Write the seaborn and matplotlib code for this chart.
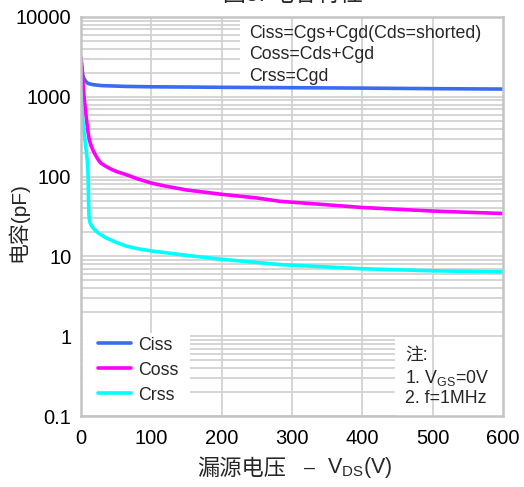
import matplotlib
matplotlib.use("Agg")
import matplotlib.pyplot as plt
from matplotlib.patches import Rectangle
from matplotlib.ticker import FixedLocator, FixedFormatter, LogLocator, NullFormatter
import seaborn as sns
import pandas as pd

# Capacitance vs drain-source voltage
vds_ciss = [0, 1, 2.4, 4, 7, 10, 17, 30, 64, 100, 200, 300, 400, 500, 600]
ciss = [3050, 2450, 1900, 1700, 1550, 1470, 1420, 1380, 1350, 1335, 1315, 1300, 1285, 1265, 1250]

vds_coss = [0, 2, 4.7, 7, 9.5, 11.8, 14, 16.6, 20, 24, 28, 35, 42, 50, 64, 80, 100, 120, 150,
            200, 250, 283, 340, 400, 500, 600]
coss = [3050, 1830, 917, 603, 387, 290, 250, 218, 190, 165, 148, 135, 125, 116, 106, 94, 83, 76, 68,
        60, 54, 49, 45, 41, 37, 34.5]

vds_crss = [0, 1, 2.5, 4, 6, 8, 9.2, 9.8, 10.3, 10.6, 11.3, 12.5, 15, 19, 25, 35.5, 50, 64,
            80, 100, 150, 200, 283, 400, 500, 600]
crss = [1165, 760, 500, 380, 270, 190, 150, 120, 90, 55, 33, 27, 24, 21.8, 19.5, 17.1, 15, 13.5,
        12.5, 11.7, 10.3, 9.2, 7.9, 7.0, 6.6, 6.4]

series_names = ["Ciss", "Coss", "Crss"]
series_colors = ["#3a6cf2", "#ff00ff", "#00ffff"]

x_ticks = [0, 100, 200, 300, 400, 500, 600]
x_labels = ["0", "100", "200", "300", "400", "500", "600"]
y_ticks = [0.1, 1, 10, 100, 1000, 10000]
y_labels = ["0.1", "1", "10", "100", "1000", "10000"]

frames = []
for name, xs, ys in zip(series_names, [vds_ciss, vds_coss, vds_crss], [ciss, coss, crss]):
    frames.append(pd.DataFrame({"VDS": xs, "C": ys, "series": name}))
df = pd.concat(frames, ignore_index=True)

sns.set_style("white")
plt.rcParams["font.family"] = ["Liberation Sans", "Noto Sans CJK SC"]
plt.rcParams["mathtext.fontset"] = "custom"
plt.rcParams["mathtext.rm"] = "Liberation Sans"
plt.rcParams["mathtext.it"] = "Liberation Sans"
plt.rcParams["mathtext.bf"] = "Liberation Sans"

W, H = 524, 487
fig = plt.figure(figsize=(W / 100, H / 100), dpi=100)
ax = fig.add_axes([81 / W, 71 / H, 422 / W, 399 / H])

sns.lineplot(data=df, x="VDS", y="C", hue="series", hue_order=series_names,
             palette=series_colors, linewidth=2.6, ax=ax, legend=False, zorder=2,
             sort=False, estimator=None)

ax.set_yscale("log")
ax.set_xlim(0, 600)
ax.set_ylim(0.1, 10000)

ax.xaxis.set_major_locator(FixedLocator(x_ticks))
ax.xaxis.set_major_formatter(FixedFormatter(x_labels))
ax.yaxis.set_major_locator(FixedLocator(y_ticks))
ax.yaxis.set_major_formatter(FixedFormatter(y_labels))
ax.yaxis.set_minor_locator(LogLocator(base=10, subs=range(2, 10), numticks=20))
ax.yaxis.set_minor_formatter(NullFormatter())
ax.tick_params(axis="both", which="both", length=0, labelsize=14.5, colors="black")
ax.tick_params(axis="x", pad=9)
ax.tick_params(axis="y", pad=7)

grid_color = "#d2d2d2"
ax.set_axisbelow(True)
ax.grid(axis="y", which="both", color=grid_color, linewidth=1.3)
ax.grid(axis="x", visible=False)
for xv in x_ticks[1:-1]:
    ax.axvline(xv, color=grid_color, linewidth=1.3, zorder=0.8)

for sp in ax.spines.values():
    sp.set_color("#c4c4c4")
    sp.set_linewidth(1.8)

# white panels behind the annotation texts
ax.add_patch(Rectangle((0.377, 0.827), 0.623, 0.173, transform=ax.transAxes,
                       facecolor="white", edgecolor="none", zorder=0.7))
ax.add_patch(Rectangle((0.744, 0.0), 0.256, 0.195, transform=ax.transAxes,
                       facecolor="white", edgecolor="none", zorder=0.7))
ax.add_patch(Rectangle((0.005, 0.003), 0.253, 0.205, transform=ax.transAxes,
                       facecolor="white", edgecolor="none", zorder=3))

handles = [plt.Line2D([], [], color=c, linewidth=2.6) for c in series_colors]
leg = ax.legend(handles, series_names, loc="lower left", bbox_to_anchor=(0.01, 0.0),
                frameon=False, fontsize=12.8, handlelength=1.85, handletextpad=0.45,
                labelspacing=0.45, borderaxespad=0.3)
leg.set_zorder(5)

fs = 12.8
ax.text(0.399, 0.958, "Ciss=Cgs+Cgd(Cds=shorted)", transform=ax.transAxes,
        fontsize=fs, va="center", ha="left", zorder=4)
ax.text(0.399, 0.905, "Coss=Cds+Cgd", transform=ax.transAxes,
        fontsize=fs, va="center", ha="left", zorder=4)
ax.text(0.399, 0.851, "Crss=Cgd", transform=ax.transAxes,
        fontsize=fs, va="center", ha="left", zorder=4)

ax.text(0.768, 0.153, "注:", transform=ax.transAxes, fontsize=fs,
        va="center", ha="left", zorder=4)
ax.text(0.768, 0.095, r"1. V$_{\mathrm{GS}}$=0V", transform=ax.transAxes, fontsize=fs,
        va="center", ha="left", zorder=4)
ax.text(0.768, 0.043, "2. f=1MHz", transform=ax.transAxes, fontsize=fs,
        va="center", ha="left", zorder=4)

# x-axis title: Chinese part and subscripted symbol drawn side by side
ax.set_xlabel("")
xl_y = 1 - 468 / H
fig.text(197 / W, xl_y, "漏源电压", fontsize=16, ha="left", va="center",
         family=["Noto Sans CJK SC"])
fig.text(309 / W, xl_y, "–", fontsize=14, ha="center", va="center")
fig.text(327 / W, xl_y, r"V$_{\mathrm{DS}}$(V)", fontsize=15.5, ha="left", va="center")

ax.set_ylabel("电容(pF)", fontsize=15)
ax.yaxis.set_label_coords((28 - 81) / 422, 0.486)

fig.text(293 / W, 1 - 0.5 / H, "图5. 电容特性", fontsize=16.5, ha="center", va="baseline")

fig.savefig("out.png", dpi=100)
